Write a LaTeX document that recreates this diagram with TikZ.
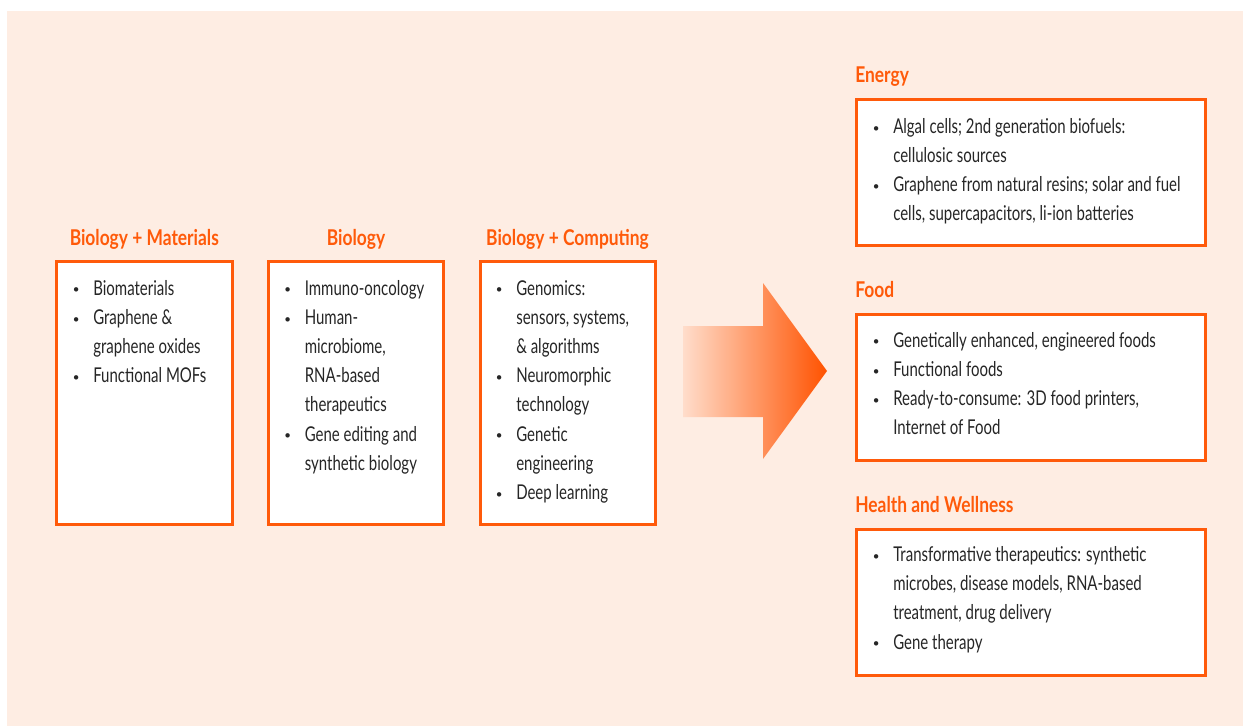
\documentclass[tikz,border=0pt]{standalone}
\usepackage{fontspec}
\setmainfont{Lato}[FakeStretch=0.735]
\newfontfamily\headfont{Lato}[FakeStretch=0.80]
\definecolor{bg}{HTML}{FEEDE3}
\definecolor{org}{HTML}{FF5A0A}
\definecolor{txt}{HTML}{262626}
\definecolor{arrL}{HTML}{FFDDCB}
\definecolor{arrR}{HTML}{FF5200}
\newcommand{\itm}[1]{\hbox{\hspace{15pt}\makebox[0pt]{\raisebox{1.6pt}{$\scriptscriptstyle\bullet$}}\hspace{12.75pt}#1}}
\newcommand{\cnt}[1]{\hbox{\hspace{27.75pt}#1}}
\newcommand{\blist}[1]{\vtop{\baselineskip=21.9pt\lineskiplimit=-50pt\lineskip=0pt #1}}
\begin{document}
\begin{tikzpicture}[x=0.75pt, y=-0.75pt,
  box/.style={draw=org, line width=2.25pt, fill=white, inner sep=0pt, outer sep=0pt, anchor=north west},
  head/.style={font=\headfont\fontsize{16.3pt}{19pt}\selectfont\bfseries, text=org, inner sep=0pt, anchor=base},
  body/.style={font=\fontsize{15.3pt}{21.9pt}\selectfont, text=txt, inner sep=0pt, anchor=base west}]
\useasboundingbox (0,0) rectangle (1243,726);
\fill[bg] (7,11) rectangle (1243,726);
% left boxes
\node[box, minimum width=176.3*0.75pt, minimum height=263*0.75pt] (b1) at (56.2,261.7) {};
\node[box, minimum width=175.5*0.75pt, minimum height=263*0.75pt] (b2) at (268,261.7) {};
\node[box, minimum width=175.5*0.75pt, minimum height=263*0.75pt] (b3) at (480,261.7) {};
\node[head] (h1) at (144.3,245) {Biology + Materials};
\node[head] (h2) at (356,245) {Biology};
\node[head] (h3) at (567.5,245) {Biology + Computing};
\node[body] (t1) at (56,295) {\blist{\itm{Biomaterials}\itm{Graphene \&}\cnt{graphene oxides}\itm{Functional MOFs}}};
\node[body] (t2) at (267.5,295) {\blist{\itm{Immuno-oncology}\itm{Human-}\cnt{microbiome,}\cnt{RNA-based}\cnt{therapeutics}\itm{Gene editing and}\cnt{synthetic biology}}};
\node[body] (t3) at (479,295) {\blist{\itm{Genomics:}\cnt{sensors, systems,}\cnt{\& algorithms}\itm{Neuromorphic}\cnt{technology}\itm{Genetic}\cnt{engineering}\itm{Deep learning}}};
% arrow
\shade[left color=arrL, right color=arrR] (683,326) -- (763,326) -- (763,283) -- (827,371) -- (763,459) -- (763,417) -- (683,417) -- cycle;
% right boxes
\node[box, minimum width=349.5*0.75pt, minimum height=145.5*0.75pt] (be) at (856,99.7) {};
\node[box, minimum width=349.5*0.75pt, minimum height=145.5*0.75pt] (bf) at (856,314.5) {};
\node[box, minimum width=349.5*0.75pt, minimum height=146.5*0.75pt] (bh) at (856,529) {};
\node[head, anchor=base west] (he) at (855,82) {Energy};
\node[head, anchor=base west] (hf) at (855,297) {Food};
\node[head, anchor=base west] (hh) at (855,512) {Health and Wellness};
\node[body] (te) at (856,133.3) {\blist{\itm{Algal cells; 2nd generation biofuels:}\cnt{cellulosic sources}\itm{Graphene from natural resins; solar and fuel}\cnt{cells, supercapacitors, li-ion batteries}}};
\node[body] (tf) at (856,347) {\blist{\itm{Genetically enhanced, engineered foods}\itm{Functional foods}\itm{Ready-to-consume: 3D food printers,}\cnt{Internet of Food}}};
\node[body] (th) at (856,561.5) {\blist{\itm{Transformative therapeutics: synthetic}\cnt{microbes, disease models, RNA-based}\cnt{treatment, drug delivery}\itm{Gene therapy}}};
\end{tikzpicture}
\end{document}
